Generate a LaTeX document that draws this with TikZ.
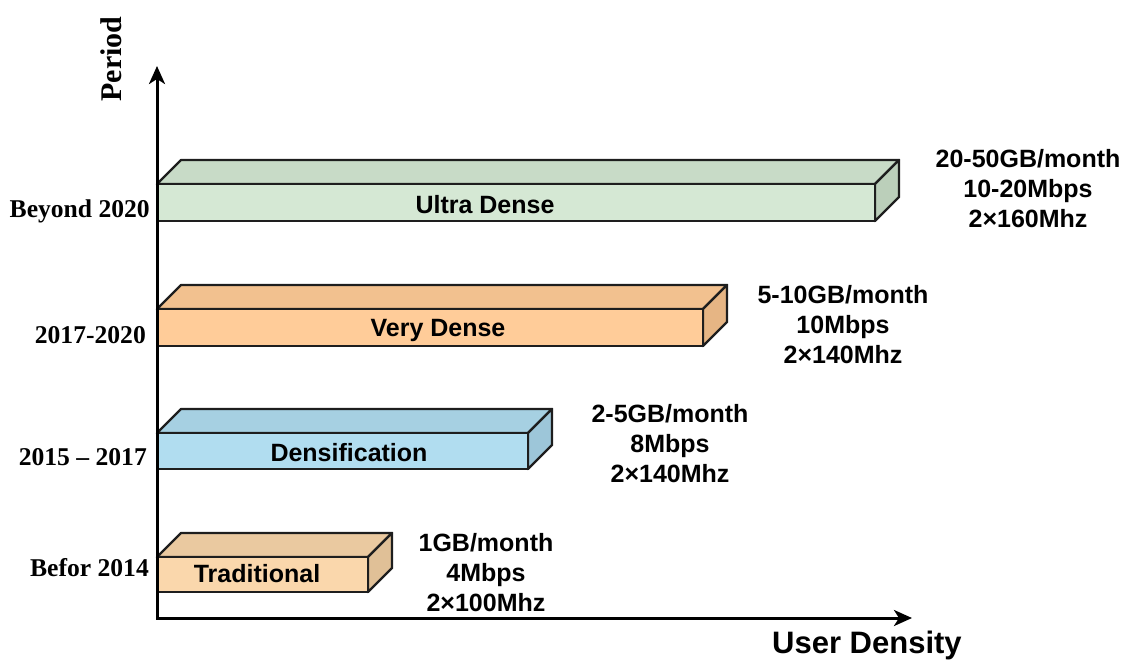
\documentclass[tikz,border=0pt]{standalone}
\usepackage{fontspec}
\setmainfont{Liberation Serif}
\setsansfont{Liberation Sans}
\usetikzlibrary{arrows.meta}

% face colours of the four boxes: front / top / side
\definecolor{ultraF}{HTML}{D5E8D4}
\definecolor{ultraT}{HTML}{C8DBC7}
\definecolor{ultraS}{HTML}{BBCFBA}
\definecolor{veryF}{HTML}{FFCC99}
\definecolor{veryT}{HTML}{F2C18F}
\definecolor{veryS}{HTML}{E6B584}
\definecolor{densF}{HTML}{B1DDF0}
\definecolor{densT}{HTML}{A6D0E2}
\definecolor{densS}{HTML}{9DC6D9}
\definecolor{tradF}{HTML}{FAD7AC}
\definecolor{tradT}{HTML}{EAC9A0}
\definecolor{tradS}{HTML}{E0C097}
\definecolor{edgecol}{HTML}{1E1E1E}

% a 3-D box: name, right x, top y, bottom y, front/top/side colours
\newcommand\cubebar[7]{%
  \coordinate (#1-nw) at (157,#3);
  \coordinate (#1-ne) at (#2,#3);
  \coordinate (#1-se) at (#2,#4);
  \filldraw[boxedge, fill=#6] (#1-nw) -- ([shift={(24,-24)}]#1-nw)
     -- ([shift={(24,-24)}]#1-ne) -- (#1-ne) -- cycle;
  \filldraw[boxedge, fill=#7] (#1-ne) -- ([shift={(24,-24)}]#1-ne)
     -- ([shift={(24,-24)}]#1-se) -- (#1-se) -- cycle;
  \filldraw[boxedge, fill=#5] (#1-nw) rectangle (#1-se);
}

\begin{document}
\begin{tikzpicture}[x=1pt,y=-1pt,
  boxedge/.style={draw=edgecol, line width=2.4pt, line join=round},
  axis/.style={draw=black, line width=3pt,
    -{Stealth[length=18pt,width=16pt,inset=5pt]}},
  barlabel/.style={font=\sffamily\bfseries\fontsize{25}{30}\selectfont,
    inner sep=0pt, anchor=base},
  info/.style={font=\sffamily\bfseries\fontsize{25}{30}\selectfont,
    align=center, inner sep=0pt},
  period/.style={font=\rmfamily\bfseries\fontsize{25.6}{30}\selectfont,
    inner sep=0pt, anchor=base east},
  axislabel/.style={inner sep=0pt, anchor=base}]
\useasboundingbox (0,0) rectangle (1135,664);

% boxes
\cubebar{ultra}{875}{184}{221}{ultraF}{ultraT}{ultraS}
\cubebar{very}{703}{309}{346}{veryF}{veryT}{veryS}
\cubebar{dens}{528}{433}{469}{densF}{densT}{densS}
\cubebar{trad}{368}{557}{592}{tradF}{tradT}{tradS}

\node[barlabel] (ultra-l) at (485,213) {Ultra Dense};
\node[barlabel] (very-l) at (438,336) {Very Dense};
\node[barlabel] (dens-l) at (349,461) {Densification};
\node[barlabel] (trad-l) at (257,582) {Traditional};

% figures beside each box
\node[info] (ultra-i) at (1028,189) {20-50GB/month\\10-20Mbps\\2×160Mhz};
\node[info] (very-i) at (843,325) {5-10GB/month\\10Mbps\\2×140Mhz};
\node[info] (dens-i) at (670,444) {2-5GB/month\\8Mbps\\2×140Mhz};
\node[info] (trad-i) at (486,573) {1GB/month\\4Mbps\\2×100Mhz};

% axes
\coordinate (origin) at (157,618);
\coordinate (ytip) at (157,66);
\coordinate (xtip) at (912,618);
\draw[axis] (origin) -- (ytip);
\draw[axis] (origin) -- (xtip);
\fill[black] ([shift={(-1.5,-1.5)}]origin) rectangle ([shift={(1.5,1.5)}]origin);

% period labels
\node[period] (p1) at (150,217) {Beyond 2020};
\node[period] (p2) at (146,343) {2017-2020};
\node[period] (p3) at (147,465) {2015 – 2017};
\node[period] (p4) at (149,576) {Befor 2014};

\node[axislabel, rotate=90, font=\rmfamily\bfseries\fontsize{30}{34}\selectfont]
  (ylab) at (121,59) {Period};
\node[axislabel, font=\sffamily\bfseries\fontsize{31}{35}\selectfont]
  (xlab) at (867,653) {User Density};
\end{tikzpicture}
\end{document}
